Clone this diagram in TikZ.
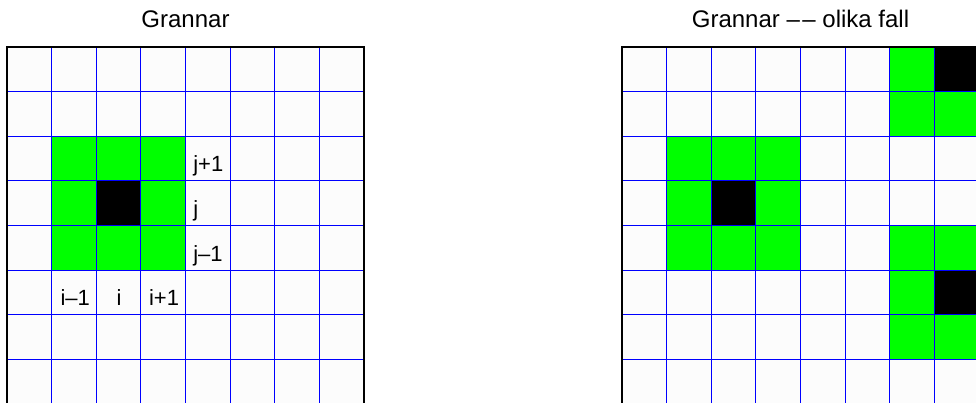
\documentclass[tikz,border=0pt]{standalone}
\usepackage{fontspec}
\setmainfont{Liberation Sans}
\definecolor{cellbg}{RGB}{252,252,252}
\definecolor{gridblue}{RGB}{0,0,255}
\definecolor{nbgreen}{RGB}{0,255,0}
\tikzset{
  titletext/.style={anchor=base, inner sep=0pt, font=\fontsize{24}{28}\selectfont},
  idxlabel/.style={anchor=base, inner sep=0pt, font=\fontsize{22}{26}\selectfont},
  jdxlabel/.style={anchor=base west, inner sep=0pt, font=\fontsize{22}{26}\selectfont},
  gridlines/.style={draw=gridblue, line width=1.2pt},
  frameline/.style={draw=black, line width=1.2pt},
}
\begin{document}
\begin{tikzpicture}[x=1pt,y=-1pt]
\useasboundingbox (0,0) rectangle (976,403);
\fill[white] (0,0) rectangle (976,403);

% titles
\node[titletext] (t1) at (185.5,27.3) {Grannar};
\node[titletext] (t2) at (800.5,27.3) {Grannar –\kern2.5pt– olika fall};

% left grid
\begin{scope}[shift={(7,47)}, x=44.625pt, y=-44.625pt]
  \fill[cellbg] (0,0) rectangle (8,8);
  \fill[nbgreen] (1,2) rectangle (4,5);
  \fill[black] (2,3) rectangle (3,4);
  \foreach \k in {1,...,7} {
    \draw[gridlines] (\k,0) -- (\k,8);
    \draw[gridlines] (0,\k) -- (8,\k);
  }
  \draw[frameline] (0,8) -- (0,0) -- (8,0) -- (8,8);
  \node[jdxlabel] (jp) at (4.17,2.8) {j+1};
  \node[jdxlabel] (j0) at (4.17,3.8) {j};
  \node[jdxlabel] (jm) at (4.17,4.8) {j–1};
  \node[idxlabel] (im) at (1.53,5.8) {i–1};
  \node[idxlabel] (i0) at (2.51,5.8) {i};
  \node[idxlabel] (ip) at (3.52,5.8) {i+1};
\end{scope}

% right grid
\begin{scope}[shift={(622,47)}, x=44.625pt, y=-44.625pt]
  \fill[cellbg] (0,0) rectangle (8,8);
  \fill[nbgreen] (1,2) rectangle (4,5);
  \fill[black] (2,3) rectangle (3,4);
  \fill[nbgreen] (6,0) rectangle (8,2);
  \fill[black] (7,0) rectangle (8,1);
  \fill[nbgreen] (6,4) rectangle (8,7);
  \fill[black] (7,5) rectangle (8,6);
  \foreach \k in {1,...,7} {
    \draw[gridlines] (\k,0) -- (\k,8);
    \draw[gridlines] (0,\k) -- (8,\k);
  }
  \draw[frameline] (0,8) -- (0,0) -- (8,0) -- (8,8);
\end{scope}
\end{tikzpicture}
\end{document}
